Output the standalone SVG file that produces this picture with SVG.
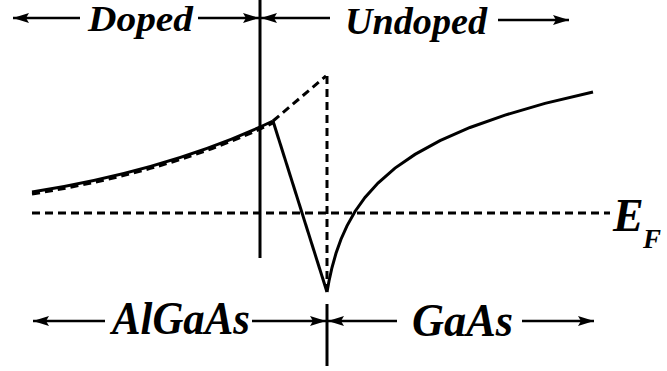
<svg xmlns="http://www.w3.org/2000/svg" width="667" height="371" viewBox="0 0 667 371">
<style>
.t{font-family:"Liberation Serif","Times New Roman",serif;font-weight:bold;font-style:italic;fill:#000}
.ln{stroke:#000;stroke-width:3;fill:none}
.ds{stroke:#000;stroke-width:3;fill:none;stroke-dasharray:8 5}
.ar{stroke:#000;stroke-width:2.5;fill:none;marker-end:url(#ah)}
</style>
<defs>
<marker id="ah" viewBox="0 0 16 10" refX="16" refY="5" markerWidth="16" markerHeight="10" orient="auto" markerUnits="userSpaceOnUse">
<path d="M0,0 L16,5 L0,10 L3,5 Z" fill="#000"/>
</marker>
</defs>
<rect width="667" height="371" fill="#fff"/>
<g id="band">
<path class="ds" d="M32,194 Q170,172 273,123"/>
<path class="ln" d="M32,192 Q170,170 273,121"/>
<path class="ds" d="M273,121 L326,76"/>
<path class="ds" d="M327,76 L327,290"/>
<path class="ln" d="M273,121 L327,292"/>
<path class="ln" d="M327,292 L329,281 L332,267.5 L336,253.3 L341,239.2 L347,225.8 L355,211.5 L365,197.4 L378,183 L395,168.1 L415,154.4 L440,140.7 L470,127.5 L505,115.1 L545,103.4 L593,92"/>
</g>
<g id="fermi">
<path class="ds" d="M32,213 L610,213"/>
<text class="t" x="613" y="231" font-size="46">E</text>
<text class="t" x="643" y="248" font-size="27">F</text>
</g>
<g id="interface-top">
<path class="ln" d="M260,0 L260,258"/>
</g>
<g id="interface-bottom">
<path class="ln" d="M327,304 L327,366" stroke-width="2.5"/>
</g>
<g id="connectors">
<path class="ar" d="M80,18 L13,18"/>
<path class="ar" d="M198,18 L259,18"/>
<path class="ar" d="M330,18 L261,18"/>
<path class="ar" d="M498,20 L569,20"/>
<path class="ar" d="M105,321 L33,321"/>
<path class="ar" d="M252,321 L326,321"/>
<path class="ar" d="M397,321 L328,321"/>
<path class="ar" d="M522,321 L594,321"/>
</g>
<g id="doped"><text class="t" x="88" y="31" font-size="36" textLength="105" lengthAdjust="spacingAndGlyphs">Doped</text></g>
<g id="undoped"><text class="t" x="345" y="34" font-size="38" textLength="142" lengthAdjust="spacingAndGlyphs">Undoped</text></g>
<g id="algaas"><text class="t" x="112" y="334" font-size="46" textLength="138" lengthAdjust="spacingAndGlyphs">AlGaAs</text></g>
<g id="gaas"><text class="t" x="412" y="336" font-size="46" textLength="101" lengthAdjust="spacingAndGlyphs">GaAs</text></g>
</svg>
